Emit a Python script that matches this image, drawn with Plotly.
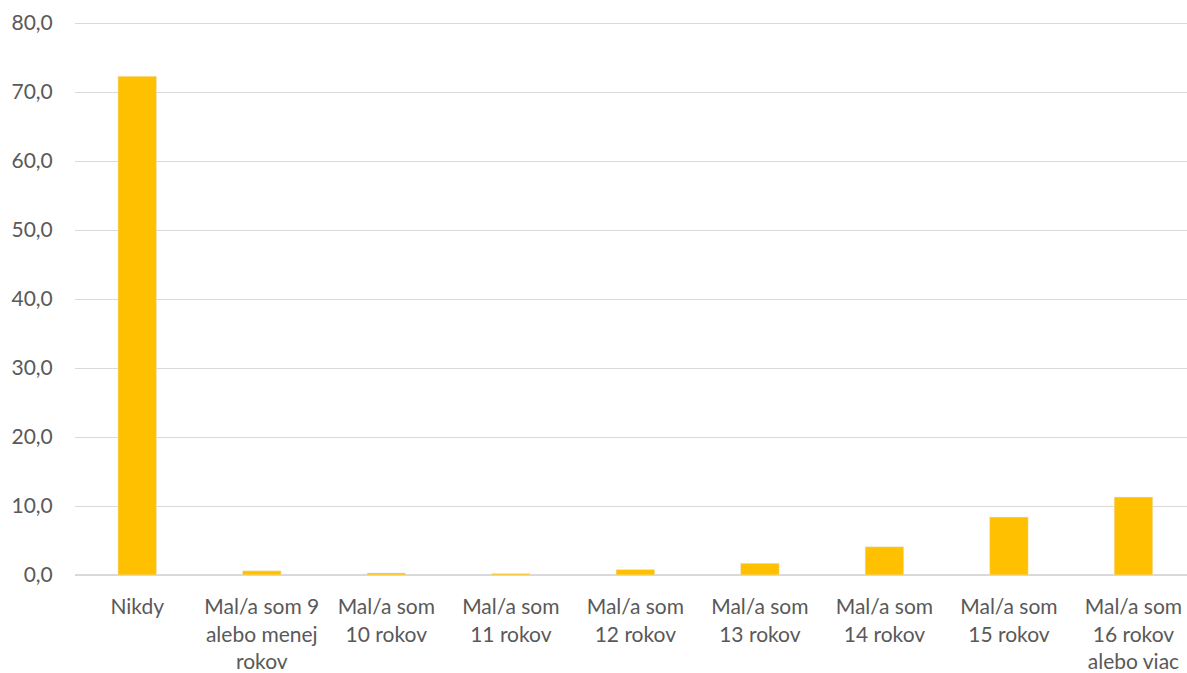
import plotly.graph_objects as go

categories = [
    "Nikdy",
    "Mal/a som 9<br>alebo menej<br>rokov",
    "Mal/a som<br>10 rokov",
    "Mal/a som<br>11 rokov",
    "Mal/a som<br>12 rokov",
    "Mal/a som<br>13 rokov",
    "Mal/a som<br>14 rokov",
    "Mal/a som<br>15 rokov",
    "Mal/a som<br>16 rokov<br>alebo viac",
]
values = [72.3, 0.6, 0.3, 0.2, 0.8, 1.7, 4.1, 8.4, 11.3]
y_ticks = [0, 10, 20, 30, 40, 50, 60, 70, 80]

fig = go.Figure(go.Bar(
    x=list(range(len(categories))),
    y=values,
    marker=dict(color="#FFC000"),
    width=0.31,
))

font_family = "Lato, Open Sans, sans-serif"
fig.update_layout(
    width=1187, height=673,
    margin=dict(l=75, r=0, t=21, b=98),
    paper_bgcolor="white", plot_bgcolor="white",
    separators=",.",
    showlegend=False,
    font=dict(family=font_family, size=21, color="#595959"),
    xaxis=dict(
        tickmode="array",
        tickvals=list(range(len(categories))),
        ticktext=categories,
        range=[-0.5, 8.43],
        showgrid=False,
        showline=False,
        zeroline=False,
        ticks="outside", ticklen=13, tickcolor="rgba(0,0,0,0)",
        tickangle=0,
        automargin=False,
    ),
    yaxis=dict(
        range=[0, 80.3],
        tickvals=y_ticks,
        tickformat=".1f",
        showgrid=True, gridcolor="#D9D9D9", gridwidth=1,
        zeroline=True, zerolinecolor="#D9D9D9", zerolinewidth=1.5,
        showline=False,
        ticks="outside", ticklen=17, tickcolor="rgba(0,0,0,0)",
        automargin=False,
    ),
)

fig.write_html(
    "out.html",
    config={"displayModeBar": False},
    post_script="document.body.style.margin='0';document.body.style.overflow='hidden';",
)
